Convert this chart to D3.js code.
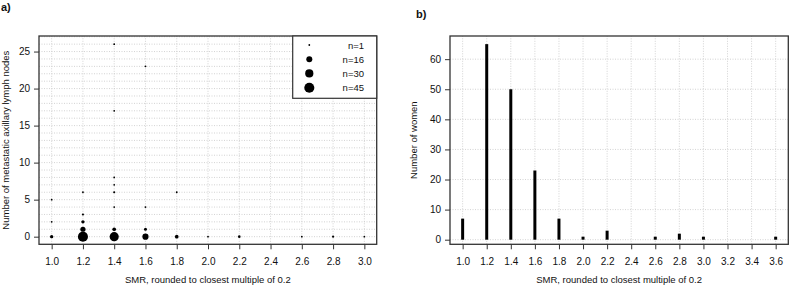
<!DOCTYPE html>
<html>
<head>
<meta charset="utf-8">
<script src="https://cdn.jsdelivr.net/npm/d3@7"></script>
<style>
  body { margin: 0; background: #fff; }
  svg { display: block; font-family: "Liberation Sans", Arial, sans-serif; }
  .grid line { stroke: #c8c8c8; stroke-width: 0.8; stroke-dasharray: 1,1.5; }
  .tick text { font-size: 10px; fill: #111; }
  .axis path { display: none; }
  .axis line { stroke: #333; }
</style>
</head>
<body>
<svg id="chart" width="790" height="286"></svg>
<script>
// ---- panel a: nodes vs SMR, point size = number of women ----
const smrA   = [1.0, 1.0, 1.0, 1.2, 1.2, 1.2, 1.2, 1.2, 1.4, 1.4, 1.4, 1.4, 1.4, 1.4, 1.4, 1.4, 1.6, 1.6, 1.6, 1.6, 1.8, 1.8, 2.0, 2.2, 2.6, 2.8, 3.0];
const nodesA = [0,   2,   5,   0,   1,   2,   3,   6,   0,   1,   4,   6,   7,   8,   17,  26,  0,   1,   4,   23,  0,   6,   0,   0,   0,   0,   0];
const countA = [5,   1,   1,   45,  12,  5,   2,   1,   37,  6,   1,   2,   1,   1,   1,   1,   17,  4,   1,   1,   6,   1,   1,   3,   1,   2,   1];
const legendN = [1, 16, 30, 45];
const ticksXA = [1.0, 1.2, 1.4, 1.6, 1.8, 2.0, 2.2, 2.4, 2.6, 2.8, 3.0];
const ticksYA = [0, 5, 10, 15, 20, 25];

// ---- panel b: number of women per SMR ----
const smrB   = [1.0, 1.2, 1.4, 1.6, 1.8, 2.0, 2.2, 2.6, 2.8, 3.0, 3.6];
const womenB = [7,   65,  50,  23,  7,   1,   3,   1,   2,   1,   1];
const ticksXB = [1.0, 1.2, 1.4, 1.6, 1.8, 2.0, 2.2, 2.4, 2.6, 2.8, 3.0, 3.2, 3.4, 3.6];
const ticksYB = [0, 10, 20, 30, 40, 50, 60];

const svg = d3.select('#chart');
const fmt = d3.format('.1f');

function frame(g, x, y, xTicks, yTicks, hGrid, xLabel, yLabel, tag, tagY) {
  const [x0, x1] = x.range(), [y0, y1] = y.range();
  const grid = g.append('g').attr('class', 'grid');
  grid.selectAll('.v').data(xTicks).join('line')
    .attr('x1', d => x(d)).attr('x2', d => x(d)).attr('y1', y0).attr('y2', y1);
  grid.selectAll('.h').data(hGrid).join('line')
    .attr('x1', x0).attr('x2', x1).attr('y1', d => y(d)).attr('y2', d => y(d));

  g.append('g').attr('class', 'axis').attr('transform', `translate(0,${y0})`)
    .call(d3.axisBottom(x).tickValues(xTicks).tickFormat(fmt).tickSize(5).tickPadding(9));
  g.append('g').attr('class', 'axis').attr('transform', `translate(${x0},0)`)
    .call(d3.axisLeft(y).tickValues(yTicks).tickSize(5).tickPadding(4));

  g.append('rect').attr('x', x0).attr('y', y1).attr('width', x1 - x0).attr('height', y0 - y1)
    .attr('fill', 'none').attr('stroke', '#333').attr('stroke-width', 1.3);

  g.append('text').attr('x', (x0 + x1) / 2).attr('y', 283).attr('text-anchor', 'middle')
    .attr('font-size', 9.5).attr('fill', '#111').text(xLabel);
  g.append('text').attr('transform', `translate(${yLabel.x},${(y0 + y1) / 2}) rotate(-90)`)
    .attr('text-anchor', 'middle').attr('font-size', 9.5).attr('fill', '#111').text(yLabel.text);
  g.append('text').attr('x', tag.x).attr('y', tagY).attr('font-size', 11).attr('font-weight', 'bold')
    .attr('fill', '#111').text(tag.text);
}

// panel a
const xA = d3.scaleLinear().domain([0.919, 3.079]).range([39, 376.7]);
const yA = d3.scaleLinear().domain([-1.03, 27.1]).range([244.3, 36]);
const rA = n => 0.75 * Math.sqrt(n);
const gA = svg.append('g');
frame(gA, xA, yA, ticksXA, ticksYA, d3.range(0, 28),
  'SMR, rounded to closest multiple of 0.2',
  { x: 9, text: 'Number of metastatic axillary lymph nodes' },
  { x: 1, text: 'a)' }, 11);

gA.append('g').selectAll('circle').data(smrA).join('circle')
  .attr('cx', d => xA(d)).attr('cy', (d, i) => yA(nodesA[i]))
  .attr('r', (d, i) => Math.max(rA(countA[i]), 0.9)).attr('fill', '#000');

// legend
const leg = gA.append('g');
leg.append('rect').attr('x', 292.7).attr('y', 36).attr('width', 84).attr('height', 62.3)
  .attr('fill', '#fff').attr('stroke', '#333').attr('stroke-width', 1.2);
const legY = d3.scalePoint().domain(legendN).range([45, 87.7]);
leg.selectAll('circle').data(legendN).join('circle')
  .attr('cx', 309.3).attr('cy', d => legY(d)).attr('r', d => Math.max(rA(d), 0.9)).attr('fill', '#000');
leg.selectAll('text').data(legendN).join('text')
  .attr('x', 364).attr('y', d => legY(d) + 3.5).attr('text-anchor', 'end')
  .attr('font-size', 9.5).attr('fill', '#111').text(d => 'n=' + d);

// panel b
const xB = d3.scaleLinear().domain([0.895, 3.705]).range([450, 788.3]);
const yB = d3.scaleLinear().domain([-1.53, 67.7]).range([244.3, 36]);
const gB = svg.append('g');
frame(gB, xB, yB, ticksXB, ticksYB, ticksYB,
  'SMR, rounded to closest multiple of 0.2',
  { x: 417, text: 'Number of women' },
  { x: 416, text: 'b)' }, 18);

gB.append('g').selectAll('line.bar').data(smrB).join('line')
  .attr('x1', d => xB(d)).attr('x2', d => xB(d))
  .attr('y1', yB(0)).attr('y2', (d, i) => yB(womenB[i]))
  .attr('stroke', '#000').attr('stroke-width', 3);
</script>
</body>
</html>
